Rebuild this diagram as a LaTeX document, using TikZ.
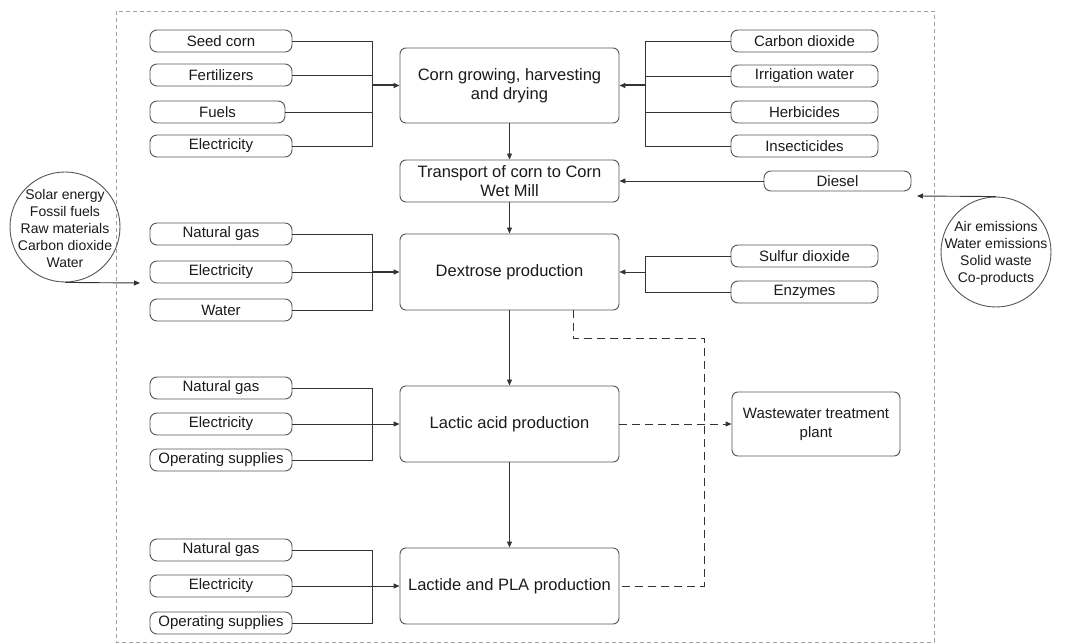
\documentclass[tikz,border=0pt]{standalone}
\usepackage{fontspec}
\setmainfont{Liberation Sans}
\usetikzlibrary{arrows.meta}
\definecolor{linec}{HTML}{333333}
\definecolor{boxc}{HTML}{555555}
\definecolor{txtc}{HTML}{1A1A1A}
\definecolor{bordc}{HTML}{A0A0A0}
\begin{document}
\begin{tikzpicture}[x=1pt,y=-1pt,
  inbox/.style={draw=boxc, line width=0.9pt, rounded corners=7pt, minimum height=22pt, minimum width=142pt, inner sep=0pt, text=txtc, font=\fontsize{15}{17}\selectfont},
  mainbox/.style={draw=boxc, line width=0.9pt, rounded corners=6pt, minimum width=219pt, inner sep=0pt, align=center, text=txtc, font=\fontsize{16.5}{19.5}\selectfont},
  circtxt/.style={align=center, inner sep=0pt, text=txtc, font=\fontsize{14}{17}\selectfont},
  ring/.style={draw=boxc, line width=0.9pt, circle, minimum size=110pt, inner sep=0pt},
  conn/.style={draw=linec, line width=0.9pt},
  thick conn/.style={draw=linec, line width=2pt},
  arr/.style={-{Triangle[length=6pt,width=5pt]}},
  dashline/.style={draw=linec, line width=0.9pt, dash pattern=on 8pt off 5pt},
]
\useasboundingbox (0,0) rectangle (1069,644);
% system boundary
\draw[bordc, line width=0.9pt, dash pattern=on 4pt off 3pt] (116,11) rectangle (934,642);

% main process boxes
\node[mainbox, minimum height=75pt] (corn) at (509.5,85.5) {Corn growing, harvesting\\and drying};
\node[mainbox, minimum height=42pt] (tr) at (509.5,181) {Transport of corn to Corn\\Wet Mill};
\node[mainbox, minimum height=76pt] (dex) at (509.5,272) {Dextrose production};
\node[mainbox, minimum height=76pt] (lac) at (509.5,424) {Lactic acid production};
\node[mainbox, minimum height=76pt] (pla) at (509.5,586) {Lactide and PLA production};
\node[mainbox, minimum width=168pt, minimum height=64pt, font=\fontsize{15}{19}\selectfont] (ww) at (816,424) {Wastewater treatment\\plant};

% left inputs
\node[inbox] (sc) at (221,41) {Seed corn};
\node[inbox] (fe) at (221,75) {Fertilizers};
\node[inbox, minimum width=135pt] (fu) at (217.5,112) {Fuels};
\node[inbox] (el1) at (221,146) {Electricity};

\node[inbox] (ng1) at (221,234) {Natural gas};
\node[inbox] (el2) at (221,272) {Electricity};
\node[inbox] (wat) at (221,310) {Water};

\node[inbox] (ng2) at (221,388) {Natural gas};
\node[inbox] (el3) at (221,424) {Electricity};
\node[inbox] (op1) at (221,460) {Operating supplies};

\node[inbox] (ng3) at (221,550) {Natural gas};
\node[inbox] (el4) at (221,586) {Electricity};
\node[inbox] (op2) at (221,623) {Operating supplies};

% right inputs
\node[inbox, minimum width=147pt] (co2) at (804.5,41) {Carbon dioxide};
\node[inbox, minimum width=147pt] (irr) at (804.5,76) {Irrigation water};
\node[inbox, minimum width=147pt] (herb) at (804.5,112) {Herbicides};
\node[inbox, minimum width=147pt] (ins) at (804.5,146) {Insecticides};
\node[inbox, minimum width=147pt, minimum height=20pt] (dies) at (837.5,181) {Diesel};
\node[inbox, minimum width=147pt] (so2) at (804.5,256) {Sulfur dioxide};
\node[inbox, minimum width=147pt] (enz) at (804.5,292) {Enzymes};

% circles
\node[ring] (inp) at (65,227) {};
\node[circtxt] (inpT) at (65,228) {Solar energy\\Fossil fuels\\Raw materials\\Carbon dioxide\\Water};
\node[ring] (outp) at (996,252) {};
\node[circtxt] (outpT) at (996,253) {Air emissions\\Water emissions\\Solid waste\\Co-products};

% bus coordinates
\coordinate (busL) at (372,0);
\coordinate (busR) at (645,0);
\coordinate (inEnd) at (140,283);
\coordinate (outEnd) at (917,196);
\coordinate (d1) at (573,338);
\coordinate (d2) at (704,338);

% corn group (left)
\draw[conn] (sc.east) -- (sc.east -| busL) -- (el1.east -| busL) -- (el1.east);
\draw[conn] (fe.east) -- (fe.east -| busL);
\draw[conn] (fu.east) -- (fu.east -| busL);
\draw[thick conn, arr] (corn.west -| busL) -- (corn.west);
% corn group (right)
\draw[conn] (co2.west) -- (co2.west -| busR) -- (ins.west -| busR) -- (ins.west);
\draw[conn] (irr.west) -- (irr.west -| busR);
\draw[conn] (herb.west) -- (herb.west -| busR);
\draw[thick conn, arr] (corn.east -| busR) -- (corn.east);

% main flow
\draw[conn, arr] (corn.south) -- (tr.north);
\draw[conn, arr] (tr.south) -- (dex.north);
\draw[conn, arr] (dex.south) -- (lac.north);
\draw[conn, arr] (lac.south) -- (pla.north);
\draw[conn, arr] (dies.west) -- (tr.east);

% dextrose group
\draw[conn] (ng1.east) -- (ng1.east -| busL) -- (wat.east -| busL) -- (wat.east);
\draw[conn] (el2.east) -- (el2.east -| busL);
\draw[thick conn, arr] (dex.west -| busL) -- (dex.west);
\draw[conn] (so2.west) -- (so2.west -| busR) -- (enz.west -| busR) -- (enz.west);
\draw[conn, arr] (dex.east -| busR) -- (dex.east);

% lactic group
\draw[conn] (ng2.east) -- (ng2.east -| busL) -- (op1.east -| busL) -- (op1.east);
\draw[conn, arr] (el3.east) -- (lac.west);

% PLA group
\draw[conn] (ng3.east) -- (ng3.east -| busL) -- (op2.east -| busL) -- (op2.east);
\draw[conn, arr] (el4.east) -- (pla.west);

% wastewater
\draw[dashline] (d1 |- dex.south) -- (d1) -- (d2) -- (d2 |- pla.east) -- (pla.east);
\draw[dashline, arr] (lac.east) -- (ww.west);

% environment arrows
\draw[conn, arr] (inp.south) -- (inEnd);
\draw[conn, arr] (outp.north) -- (outEnd);
\end{tikzpicture}
\end{document}
